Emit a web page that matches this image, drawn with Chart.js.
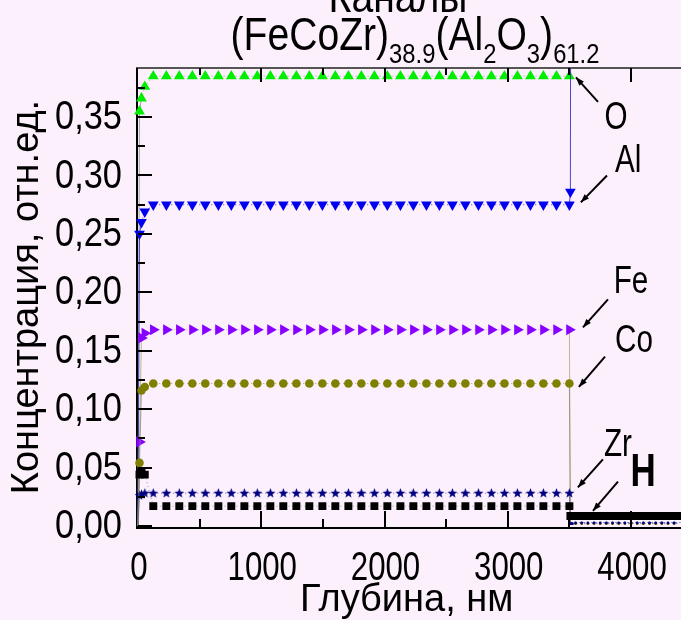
<!DOCTYPE html>
<html>
<head>
<meta charset="utf-8">
<script src="https://cdn.jsdelivr.net/npm/chart.js@4.4.1/dist/chart.umd.min.js"></script>
<style>
  html, body { margin: 0; padding: 0; background: #fdf0fd; }
  #wrap { width: 681px; height: 620px; }
</style>
</head>
<body>
<div id="wrap"><canvas id="conc" width="681" height="620"></canvas></div>
<script>
// depth points, nm (near-surface points + regular film points)
const depth = [0, 12, 28, 55,
  124, 230, 335, 441, 546, 652, 757, 863, 968, 1074, 1179, 1285, 1390, 1496, 1601, 1707,
  1812, 1918, 2023, 2129, 2234, 2340, 2445, 2551, 2656, 2762, 2867, 2973, 3078, 3184, 3289, 3395, 3500]

const oxygen = [0, 0.355, 0.366, 0.376,
  0.385, 0.385, 0.385, 0.385, 0.385, 0.385, 0.385, 0.385, 0.385, 0.385, 0.385, 0.385, 0.385, 0.385, 0.385, 0.385,
  0.385, 0.385, 0.385, 0.385, 0.385, 0.385, 0.385, 0.385, 0.385, 0.385, 0.385, 0.385, 0.385, 0.385, 0.385, 0.385, 0.385]
const aluminium = [0, 0.25, 0.26, 0.269,
  0.275, 0.275, 0.275, 0.275, 0.275, 0.275, 0.275, 0.275, 0.275, 0.275, 0.275, 0.275, 0.275, 0.275, 0.275, 0.275,
  0.275, 0.275, 0.275, 0.275, 0.275, 0.275, 0.275, 0.275, 0.275, 0.275, 0.275, 0.275, 0.275, 0.275, 0.275, 0.275, 0.275]
const iron = [0, 0.072, 0.161, 0.165,
  0.168, 0.168, 0.168, 0.168, 0.168, 0.168, 0.168, 0.168, 0.168, 0.168, 0.168, 0.168, 0.168, 0.168, 0.168, 0.168,
  0.168, 0.168, 0.168, 0.168, 0.168, 0.168, 0.168, 0.168, 0.168, 0.168, 0.168, 0.168, 0.168, 0.168, 0.168, 0.168, 0.168]
const cobalt = [0, 0.054, 0.116, 0.119,
  0.122, 0.122, 0.122, 0.122, 0.122, 0.122, 0.122, 0.122, 0.122, 0.122, 0.122, 0.122, 0.122, 0.122, 0.122, 0.122,
  0.122, 0.122, 0.122, 0.122, 0.122, 0.122, 0.122, 0.122, 0.122, 0.122, 0.122, 0.122, 0.122, 0.122, 0.122, 0.122, 0.122]
const zirconium = [0, 0.026, 0.027, 0.028,
  0.028, 0.028, 0.028, 0.028, 0.028, 0.028, 0.028, 0.028, 0.028, 0.028, 0.028, 0.028, 0.028, 0.028, 0.028, 0.028,
  0.028, 0.028, 0.028, 0.028, 0.028, 0.028, 0.028, 0.028, 0.028, 0.028, 0.028, 0.028, 0.028, 0.028, 0.028, 0.028, 0.028]
const hydrogen = [0, 0.044, 0.046, 0.044,
  0.017, 0.017, 0.017, 0.017, 0.017, 0.017, 0.017, 0.017, 0.017, 0.017, 0.017, 0.017, 0.017, 0.017, 0.017, 0.017,
  0.017, 0.017, 0.017, 0.017, 0.017, 0.017, 0.017, 0.017, 0.017, 0.017, 0.017, 0.017, 0.017, 0.017, 0.017, 0.017, 0.017]

// film / substrate edge
const edgeDepth = [3508, 3516, 3524]
const oxygenEdge = [null, null, null]
const aluminiumEdge = [0.286, 0.9, null]
const ironEdge = [0.002, 0.002, 0.002]
const cobaltEdge = [0.002, 0.002, 0.002]
const zirconiumEdge = [0.002, 0.002, 0.002]
const hydrogenEdge = [0.0086, 0.0086, 0.0086]

// substrate
const tailDepth = [3550, 3600, 3650, 3700, 3750, 3800, 3850, 3900, 3950, 4000, 4050, 4100, 4150, 4200, 4250, 4300, 4350, 4400, 4450]
const oxygenTail = [0.003, 0.003, 0.003, 0.003, 0.003, 0.003, 0.003, 0.003, 0.003, 0.003, 0.003, 0.003, 0.003, 0.003, 0.003, 0.003, 0.003, 0.003, 0.003]
const aluminiumTail = [0.003, 0.003, 0.003, 0.003, 0.003, 0.003, 0.003, 0.003, 0.003, 0.003, 0.003, 0.003, 0.003, 0.003, 0.003, 0.003, 0.003, 0.003, 0.003]
const ironTail = [0.002, 0.002, 0.002, 0.002, 0.002, 0.002, 0.002, 0.002, 0.002, 0.002, 0.002, 0.002, 0.002, 0.002, 0.002, 0.002, 0.002, 0.002, 0.002]
const cobaltTail = [0.002, 0.002, 0.002, 0.002, 0.002, 0.002, 0.002, 0.002, 0.002, 0.002, 0.002, 0.002, 0.002, 0.002, 0.002, 0.002, 0.002, 0.002, 0.002]
const zirconiumTail = [0.0025, 0.0025, 0.0025, 0.0025, 0.0025, 0.0025, 0.0025, 0.0025, 0.0025, 0.0025, 0.0025, 0.0025, 0.0025, 0.0025, 0.0025, 0.0025, 0.0025, 0.0025, 0.0025]
const hydrogenTail = [0.0086, 0.0086, 0.0086, 0.0086, 0.0086, 0.0086, 0.0086, 0.0086, 0.0086, 0.0086, 0.0086, 0.0086, 0.0086, 0.0086, 0.0086, 0.0086, 0.0086, 0.0086, 0.0086]

const xTicks = [0, 1000, 2000, 3000, 4000]
const yTicks = [0, 0.05, 0.10, 0.15, 0.20, 0.25, 0.30, 0.35]

// element labels: [text, label x, label y, arrow from x, y, arrow to x, y] in data units
const elementLabels = [
  ['O', 3878, 0.349, 3732, 0.363, 3553, 0.384],
  ['Al', 3976, 0.312, 3805, 0.300, 3593, 0.277],
  ['Fe', 4000, 0.208, 3813, 0.194, 3610, 0.170],
  ['Co', 4024, 0.158, 3789, 0.145, 3577, 0.119],
  ['Zr', 3894, 0.069, 3772, 0.057, 3569, 0.033],
  ['H', 4098, 0.045, 3894, 0.038, 3691, 0.013]
]

const FONT = '"Liberation Sans", Arial, sans-serif'

function makeSeries (vals, edge, tail) {
  let pts = depth.map((d, i) => ({ x: d, y: vals[i] }))
  pts = pts.concat(edgeDepth.map((d, i) => ({ x: d, y: edge[i] })))
  pts = pts.concat(tailDepth.map((d, i) => ({ x: d, y: tail[i] })))
  return pts
}

function starImage (color, r) {
  const c = document.createElement('canvas')
  const s = Math.ceil(r * 2 + 2)
  c.width = s
  c.height = s
  const g = c.getContext('2d')
  g.fillStyle = color
  g.beginPath()
  for (let i = 0; i < 10; i++) {
    const rr = i % 2 ? r * 0.42 : r
    const a = -Math.PI / 2 + i * Math.PI / 5
    g.lineTo(s / 2 + rr * Math.cos(a), s / 2 + rr * Math.sin(a))
  }
  g.closePath()
  g.fill()
  return c
}
const starPoint = starImage('#000080', 5.2)

function smallAt (r, small) {
  return ctx => {
    const p = ctx.raw
    if (!p) return r
    if (p.x === 0) return 0
    if (p.x > 3502 && p.y < 0.005) return small
    return r
  }
}

const dottedSegment = {
  borderDash: ctx => Math.abs(ctx.p1.parsed.x - ctx.p0.parsed.x) < 20 ? [] : [1, 3]
}

function series (label, data, color, lineColor, style, radius, rotation) {
  return {
    label: label,
    data: data,
    borderColor: lineColor,
    borderWidth: 1,
    backgroundColor: color,
    pointBackgroundColor: color,
    pointBorderWidth: 0,
    pointStyle: style,
    pointRotation: rotation || 0,
    pointRadius: smallAt(radius, 1.4),
    segment: dottedSegment,
    spanGaps: false,
    showLine: true,
    clip: { left: 4, top: 0, right: 12, bottom: 4 }
  }
}

// condensed text: draw with horizontal squeeze
function squeezed (ctx, text, x, y, sx, align) {
  ctx.save()
  ctx.translate(x, y)
  ctx.scale(sx, 1)
  ctx.textAlign = align
  ctx.fillText(text, 0, 0)
  ctx.restore()
}

const frame = {
  id: 'frame',
  beforeDatasetsDraw (chart) {
    const { ctx, chartArea: a, width } = chart
    ctx.save()
    ctx.lineWidth = 2
    ctx.strokeStyle = '#555'
    ctx.beginPath()
    ctx.moveTo(a.left - 2, a.top)
    ctx.lineTo(width, a.top)
    ctx.stroke()
    ctx.strokeStyle = '#000'
    ctx.beginPath()
    ctx.moveTo(a.left - 1, a.top)
    ctx.lineTo(a.left - 1, a.bottom + 2)
    ctx.lineTo(width, a.bottom + 2)
    ctx.stroke()
    ctx.restore()
  },
  afterDatasetsDraw (chart) {
    const { ctx, chartArea: a, scales: { x, y }, width } = chart
    ctx.save()
    ctx.strokeStyle = '#000'
    ctx.lineWidth = 2
    ctx.beginPath()
    yTicks.forEach(v => {
      const py = Math.round(y.getPixelForValue(v))
      ctx.moveTo(a.left, py); ctx.lineTo(a.left + 14, py)
      const pm = Math.round(y.getPixelForValue(v + 0.025))
      if (pm > a.top) { ctx.moveTo(a.left, pm); ctx.lineTo(a.left + 7, pm) }
    })
    xTicks.forEach(v => {
      const px = Math.round(x.getPixelForValue(v))
      if (v > 0) {
        ctx.moveTo(px, a.bottom + 1); ctx.lineTo(px, a.bottom - 15)
        ctx.moveTo(px, a.top); ctx.lineTo(px, a.top + 14)
      }
      const pm = Math.round(x.getPixelForValue(v + 500))
      if (pm < width) {
        ctx.moveTo(pm, a.bottom + 1); ctx.lineTo(pm, a.bottom - 7)
        ctx.moveTo(pm, a.top); ctx.lineTo(pm, a.top + 7)
      }
    })
    ctx.stroke()

    // tick labels
    ctx.fillStyle = '#000'
    ctx.font = '40px ' + FONT
    ctx.textBaseline = 'middle'
    yTicks.forEach(v => {
      squeezed(ctx, v.toFixed(2).replace('.', ','), a.left - 16, y.getPixelForValue(v) + 1, 0.86, 'right')
    })
    ctx.textBaseline = 'alphabetic'
    xTicks.forEach(v => {
      squeezed(ctx, String(v), x.getPixelForValue(v) + 1, a.bottom + 54, 0.78, 'center')
    })
    ctx.restore()
  }
}

const titles = {
  id: 'titles',
  afterDraw (chart) {
    const { ctx } = chart
    ctx.save()
    ctx.fillStyle = '#000'
    ctx.textBaseline = 'alphabetic'
    const sx = 0.85
    ctx.font = '46px ' + FONT
    squeezed(ctx, 'Каналы', 398, 12, sx, 'center')
    const parts = [
      ['(FeCoZr)', 0], ['38.9', 1], ['(Al', 0], ['2', 1], ['O', 0], ['3', 1], [')', 0], ['61.2', 1]
    ]
    let total = 0
    parts.forEach(p => {
      ctx.font = (p[1] ? '28px ' : '46px ') + FONT
      total += ctx.measureText(p[0]).width * sx
    })
    let cx = 415 - total / 2
    parts.forEach(p => {
      ctx.font = (p[1] ? '28px ' : '46px ') + FONT
      squeezed(ctx, p[0], cx, p[1] ? 63 : 50, sx, 'left')
      cx += ctx.measureText(p[0]).width * sx
    })

    // element labels with arrows
    const { x, y } = chart.scales
    elementLabels.forEach(l => {
      ctx.font = l[0] === 'H' ? 'bold 46px ' + FONT : '38px ' + FONT
      ctx.textBaseline = 'middle'
      squeezed(ctx, l[0], x.getPixelForValue(l[1]), y.getPixelForValue(l[2]), l[0] === 'H' ? 0.76 : 0.78, 'center')
      const x0 = x.getPixelForValue(l[3]); const y0 = y.getPixelForValue(l[4])
      const x1 = x.getPixelForValue(l[5]); const y1 = y.getPixelForValue(l[6])
      ctx.strokeStyle = '#000'
      ctx.lineWidth = 2
      ctx.beginPath()
      ctx.moveTo(x0, y0)
      ctx.lineTo(x1, y1)
      ctx.stroke()
      const ang = Math.atan2(y1 - y0, x1 - x0)
      ctx.beginPath()
      ctx.moveTo(x1, y1)
      ctx.lineTo(x1 - 9 * Math.cos(ang - 0.35), y1 - 9 * Math.sin(ang - 0.35))
      ctx.lineTo(x1 - 9 * Math.cos(ang + 0.35), y1 - 9 * Math.sin(ang + 0.35))
      ctx.closePath()
      ctx.fill()
    })
    ctx.restore()
  }
}

const concChart = new Chart(document.getElementById('conc').getContext('2d'), {
  type: 'scatter',
  data: {
    datasets: [
      series('H', makeSeries(hydrogen, hydrogenEdge, hydrogenTail), '#000000', 'rgba(120,120,120,0.8)', 'rect', 5.6),
      series('Zr', makeSeries(zirconium, zirconiumEdge, zirconiumTail), '#000080', 'rgba(90,90,150,0.8)',
        ctx => (ctx.raw && ctx.raw.x > 3502) ? 'circle' : starPoint, 5),
      series('Co', makeSeries(cobalt, cobaltEdge, cobaltTail), '#808000', 'rgba(140,140,120,0.8)', 'circle', 4.3),
      series('Fe', makeSeries(iron, ironEdge, ironTail), '#8800ff', 'rgba(185,175,130,0.9)', 'triangle', 6.4, 90),
      series('Al', makeSeries(aluminium, aluminiumEdge, aluminiumTail), '#0000ee', 'rgba(40,40,200,0.85)', 'triangle', 6.2, 180),
      series('O', makeSeries(oxygen, oxygenEdge, oxygenTail), '#00ee00', 'rgba(130,150,130,0.8)', 'triangle', 6.3)
    ]
  },
  options: {
    responsive: false,
    animation: false,
    devicePixelRatio: 1,
    layout: { padding: { top: 68, left: 0, right: 0, bottom: 0 } },
    plugins: {
      legend: { display: false },
      tooltip: { enabled: false }
    },
    scales: {
      x: {
        type: 'linear',
        min: 0,
        max: 4360,
        grid: { display: false, drawTicks: false },
        border: { display: false },
        afterBuildTicks: s => { s.ticks = xTicks.map(v => ({ value: v })) },
        afterFit: s => { s.height = 94 },
        ticks: { display: false },
        title: {
          display: true,
          text: 'Глубина, нм',
          color: '#000',
          font: { family: FONT, size: 38, lineHeight: 1 },
          padding: 0
        }
      },
      y: {
        min: 0,
        max: 0.392,
        grid: { display: false, drawTicks: false },
        border: { display: false },
        afterBuildTicks: s => { s.ticks = yTicks.map(v => ({ value: v })) },
        afterFit: s => { s.width = 138 },
        ticks: { display: false },
        title: {
          display: true,
          text: 'Концентрация, отн.ед.',
          color: '#000',
          font: { family: FONT, size: 38, lineHeight: 1.2 },
          padding: { top: 5, bottom: 0 }
        }
      }
    }
  },
  plugins: [frame, titles]
})
</script>
</body>
</html>
